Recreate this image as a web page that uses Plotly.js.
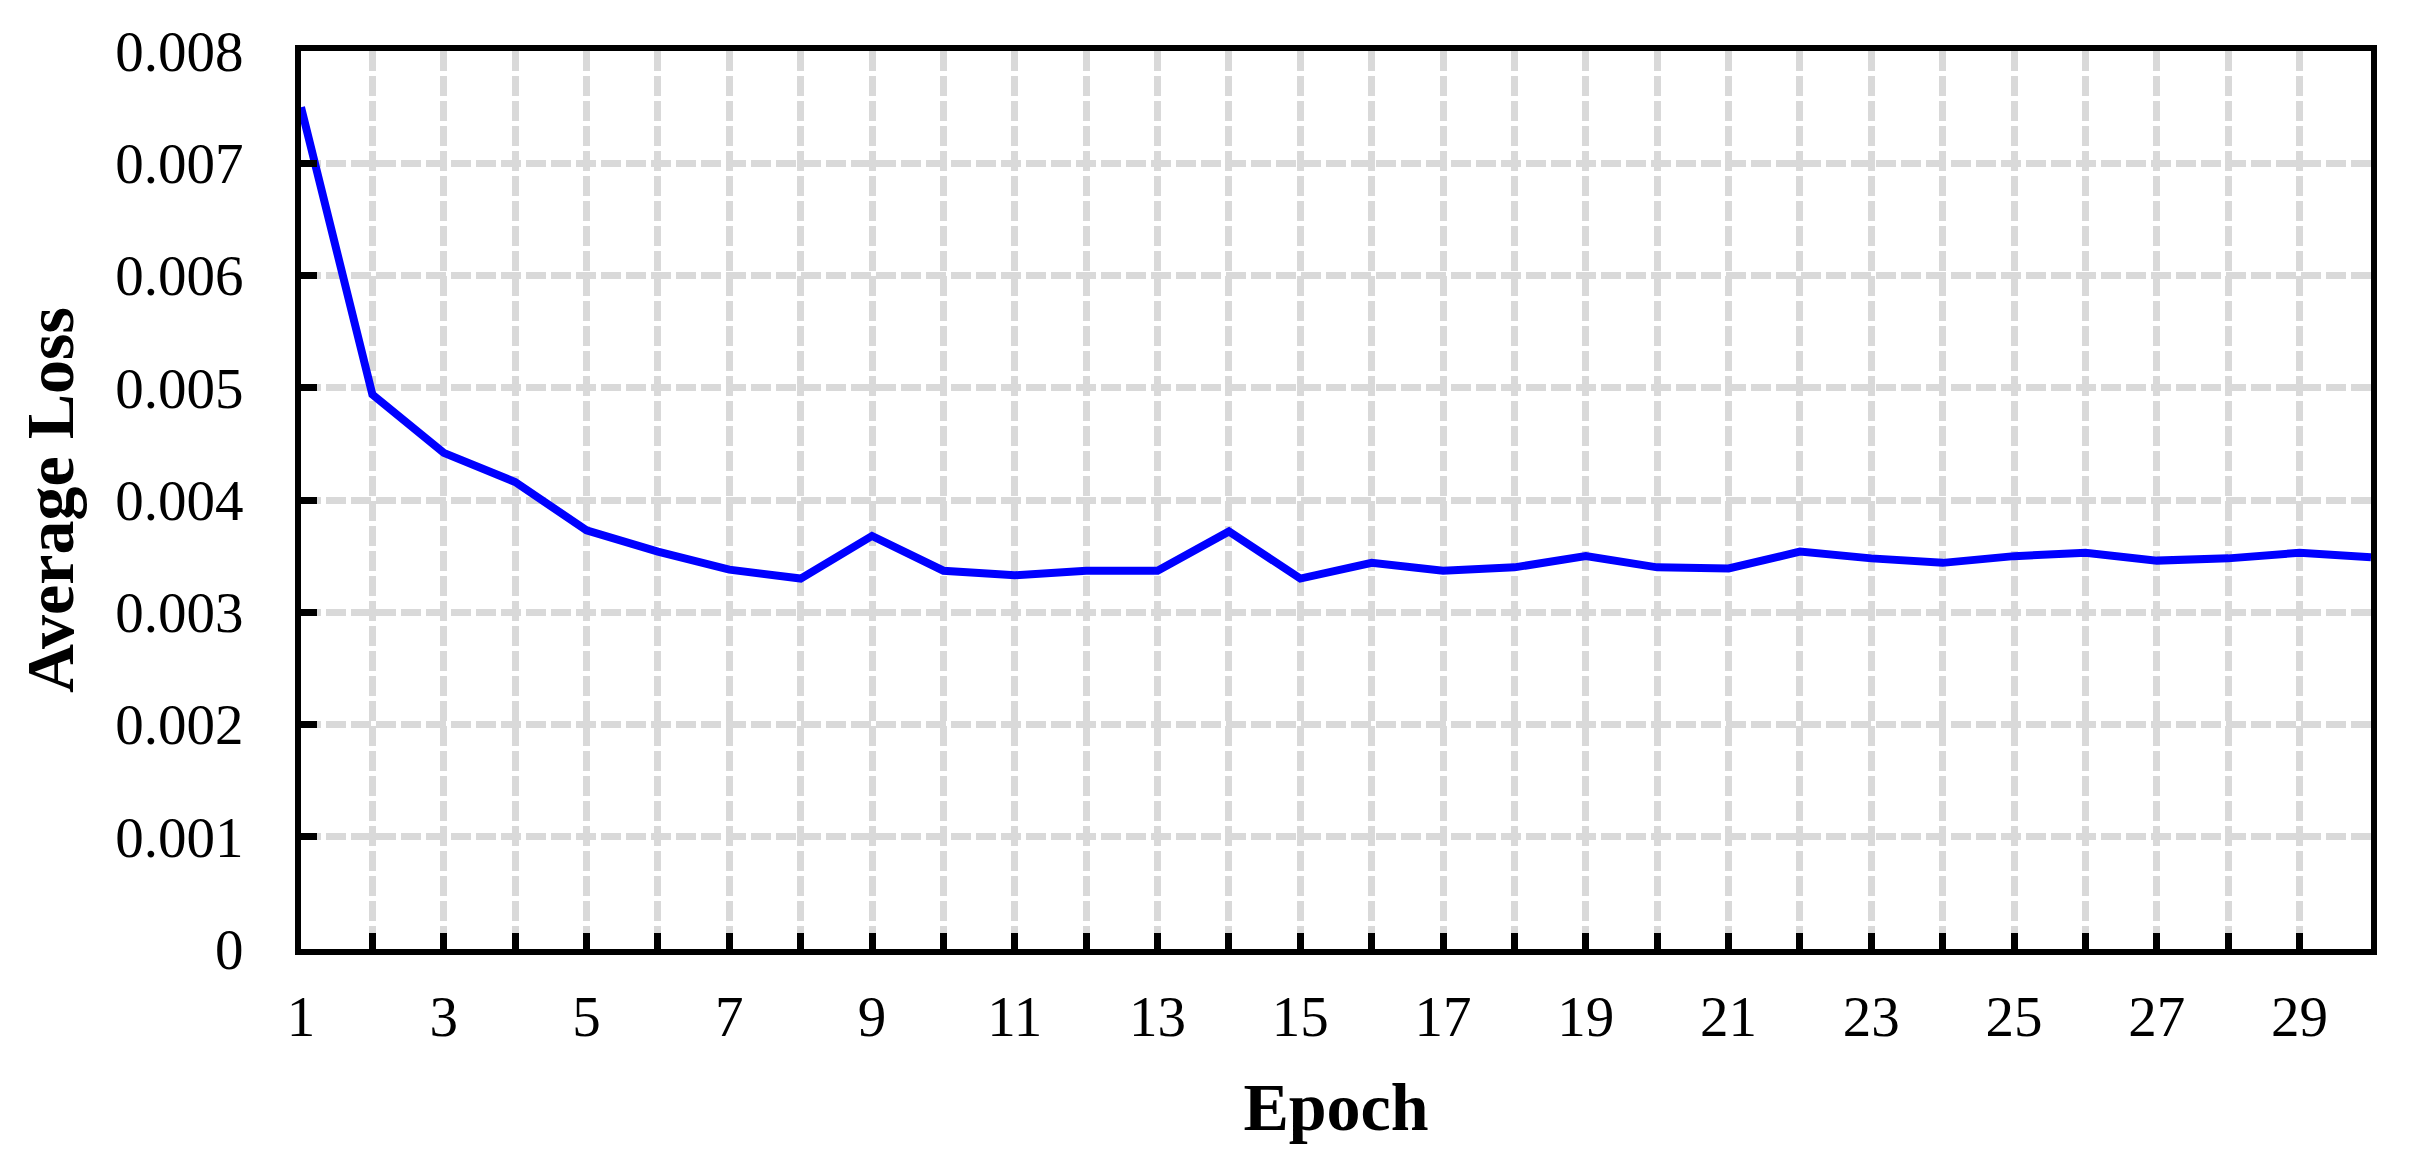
<!DOCTYPE html>
<html>
<head>
<meta charset="utf-8">
<script src="https://cdn.plot.ly/plotly-3.0.1.min.js"></script>
<style>
html,body{margin:0;padding:0;background:#fff;}
#chart{width:2415px;height:1171px;}
</style>
</head>
<body>
<div id="chart"></div>
<script>
const epochs = [1,2,3,4,5,6,7,8,9,10,11,12,13,14,15,16,17,18,19,20,21,22,23,24,25,26,27,28,29,30];
const avgLoss = [0.00750,0.00494,0.00442,0.00416,0.00373,0.00354,0.00338,0.00330,0.00368,0.00337,
                 0.00333,0.00337,0.00337,0.00372,0.00330,0.00344,0.00337,0.00340,0.00350,0.00340,
                 0.00339,0.00354,0.00348,0.00344,0.00350,0.00353,0.00346,0.00348,0.00353,0.00349];
const xTickVals = epochs;
const xTickText = epochs.map(e => (e % 2 === 1 ? String(e) : ''));
const yTickVals = [0,0.001,0.002,0.003,0.004,0.005,0.006,0.007,0.008];
const yTickText = ['0','0.001','0.002','0.003','0.004','0.005','0.006','0.007','0.008'];

const FONT = '"Liberation Serif", "Times New Roman", serif';

const trace = {
  x: epochs, y: avgLoss, type: 'scatter', mode: 'lines',
  line: {color: '#0000ff', width: 8},
  showlegend: false, hoverinfo: 'skip'
};

const layout = {
  width: 2415, height: 1171,
  paper_bgcolor: '#ffffff', plot_bgcolor: '#ffffff',
  margin: {l: 301, r: 44, t: 51, b: 222, pad: 0},
  font: {family: FONT, color: '#000', size: 57},
  xaxis: {
    range: [1, 30], tickmode: 'array', tickvals: xTickVals, ticktext: xTickText,
    ticks: 'inside', ticklen: 16, tickwidth: 7, tickcolor: '#000',
    showline: true, linewidth: 6, linecolor: '#000', mirror: true,
    showgrid: true, gridcolor: '#d9d9d9', gridwidth: 7, griddash: '20px,5px',
    zeroline: false, tickfont: {family: FONT, size: 57, color: '#000'},
    ticklabelstandoff: 13,
    title: {text: '<b>Epoch</b>', font: {family: FONT, size: 68, color: '#000'}, standoff: 37}
  },
  yaxis: {
    range: [0, 0.008], tickmode: 'array', tickvals: yTickVals, ticktext: yTickText,
    ticks: 'inside', ticklen: 16, tickwidth: 7, tickcolor: '#000',
    showline: true, linewidth: 6, linecolor: '#000', mirror: true,
    showgrid: true, gridcolor: '#d9d9d9', gridwidth: 7, griddash: '20px,5px',
    zeroline: false, tickfont: {family: FONT, size: 57, color: '#000'},
    ticklabelstandoff: 40,
    title: {text: '<b>Average Loss</b>', font: {family: FONT, size: 68, color: '#000'}, standoff: 22}
  }
};

Plotly.newPlot('chart', [trace], layout, {displayModeBar: false, staticPlot: true});
</script>
</body>
</html>
